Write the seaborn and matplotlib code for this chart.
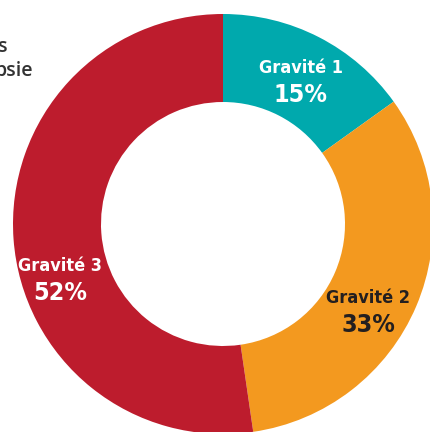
import matplotlib
matplotlib.use("Agg")
import matplotlib.pyplot as plt
import seaborn as sns

# Data (shares, labels as printed)
labels = ["Gravité 1", "Gravité 2", "Gravité 3"]
shares = [15.1, 32.6, 52.3]
pct_labels = ["15%", "33%", "52%"]
colors = ["#00A9AD", "#F3991F", "#BD1C2D"]
text_colors = ["white", "#231F20", "white"]

sns.set_theme(style="white")
plt.rcParams["font.family"] = ["DejaVu Sans"]

fig = plt.figure(figsize=(4.30, 4.32), dpi=100)
ax = fig.add_axes([0, 0, 1, 1])
ax.set_aspect("equal")
ax.axis("off")

# donut, drawn in pixel space (y measured from bottom)
ax.pie(shares, colors=colors, startangle=90, counterclock=False,
       center=(223, 432 - 224), radius=210,
       wedgeprops=dict(width=88, linewidth=0))
ax.set_xlim(0, 430)
ax.set_ylim(0, 432)

# label positions (pixels from top-left)
label_pos = [(301, 68), (368, 298), (60, 266)]
for name, pct, (x, y), tc in zip(labels, pct_labels, label_pos, text_colors):
    ax.text(x, 432 - y, name, ha="center", va="center", fontsize=13,
            color=tc, fontweight="bold", fontstretch="condensed")
    ax.text(x, 432 - y - 27, pct, ha="center", va="center",
            fontsize=18, color=tc, fontweight="bold", fontstretch="condensed")

# cut-off title text at the left edge
ax.text(8, 432 - 47, "s", ha="right", va="center", fontsize=14,
        color="#333333", family=["Open Sans", "DejaVu Sans"], fontweight="semibold")
ax.text(33, 432 - 71, "psie", ha="right", va="center", fontsize=14,
        color="#333333", family=["Open Sans", "DejaVu Sans"], fontweight="semibold")

fig.savefig("out.png", dpi=100)
